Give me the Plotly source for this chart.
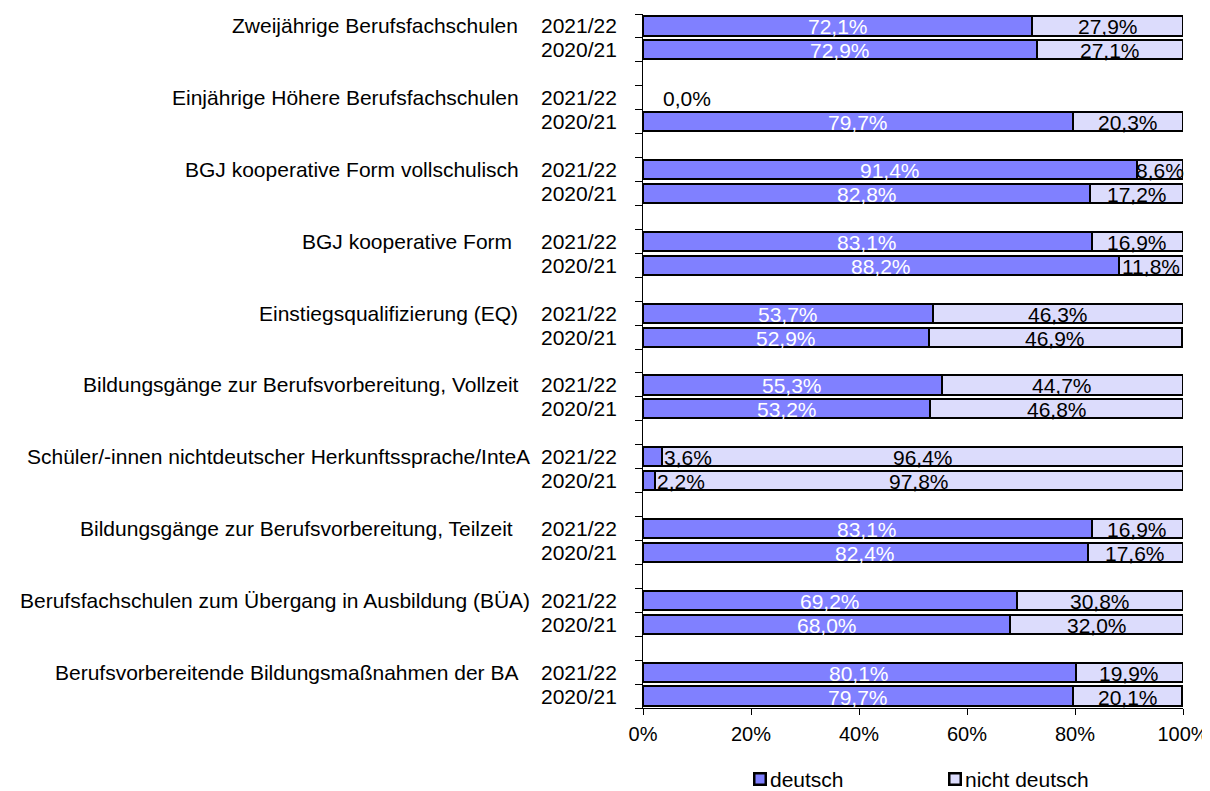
import plotly.graph_objects as go

categories = [
    "Zweijährige Berufsfachschulen  ",
    "Einjährige Höhere Berufsfachschulen  ",
    "BGJ kooperative Form vollschulisch  ",
    "BGJ kooperative Form   ",
    "Einstiegsqualifizierung (EQ)  ",
    "Bildungsgänge zur Berufsvorbereitung, Vollzeit  ",
    "Schüler/-innen nichtdeutscher Herkunftssprache/InteA",
    "Bildungsgänge zur Berufsvorbereitung, Teilzeit   ",
    "Berufsfachschulen zum Übergang in Ausbildung (BÜA)",
    "Berufsvorbereitende Bildungsmaßnahmen der BA  ",
]
years = ["2021/22", "2020/21"]

deutsch_2122 = [72.1, 0.0, 91.4, 83.1, 53.7, 55.3, 3.6, 83.1, 69.2, 80.1]
nicht_2122 = [27.9, None, 8.6, 16.9, 46.3, 44.7, 96.4, 16.9, 30.8, 19.9]
deutsch_2021 = [72.9, 79.7, 82.8, 88.2, 52.9, 53.2, 2.2, 82.4, 68.0, 79.7]
nicht_2021 = [27.1, 20.3, 17.2, 11.8, 46.9, 46.8, 97.8, 17.6, 32.0, 20.1]

x_ticks = [0, 20, 40, 60, 80, 100]
x_tick_labels = ["0%", "20%", "40%", "60%", "80%", "100%"]

series_names = ["deutsch", "nicht deutsch"]
colors = ["#8080ff", "#dcdcfc"]
FONT = "Liberation Sans, Arial, sans-serif"
FS = 21

# slot positions: each category has two rows plus a gap row
ys, d_vals, n_vals, yr_labels = [], [], [], []
for i in range(len(categories)):
    for j, (dv, nv) in enumerate([(deutsch_2122[i], nicht_2122[i]), (deutsch_2021[i], nicht_2021[i])]):
        ys.append(3 * i + j + 0.5)
        d_vals.append(dv)
        n_vals.append(nv)
        yr_labels.append(years[j])
n_slots = 3 * len(categories) - 1

fig = go.Figure()
for name, vals, col in [(series_names[0], d_vals, colors[0]), (series_names[1], n_vals, colors[1])]:
    fig.add_trace(go.Bar(
        x=[v if v else None for v in vals], y=ys, orientation="h", name=name, width=0.8,
        marker=dict(color=col, line=dict(color="black", width=2.5)),
        hoverinfo="skip", showlegend=False,
    ))

def fmt(v):
    return f"{v:.1f}".replace(".", ",") + "%"

ann = []
for y, dv, nv in zip(ys, d_vals, n_vals):
    if dv is not None:
        if dv == 0:
            ann.append(dict(x=0, y=y, text=fmt(dv), xanchor="left", xshift=18, yshift=-1,
                            font=dict(color="black", size=FS, family=FONT), showarrow=False))
        elif dv < 10:
            ann.append(dict(x=dv, y=y, text=fmt(dv), xanchor="left", xshift=0, yshift=-1,
                            font=dict(color="black", size=FS, family=FONT), showarrow=False))
        else:
            ann.append(dict(x=dv / 2, y=y, text=fmt(dv), xanchor="center", yshift=-1,
                            font=dict(color="white", size=FS, family=FONT), showarrow=False))
    if nv is not None:
        ann.append(dict(x=dv + nv / 2, y=y, text=fmt(nv), xanchor="center", yshift=-1,
                        font=dict(color="black", size=FS, family=FONT), showarrow=False))

for y, yl in zip(ys, yr_labels):
    ann.append(dict(xref="paper", x=0, y=y, text=yl, xanchor="right", xshift=-24,
                    font=dict(color="black", size=FS, family=FONT), showarrow=False))

for i, c in enumerate(categories):
    txt = c.rstrip(" ") + "\u00a0" * (len(c) - len(c.rstrip(" ")))
    ann.append(dict(xref="paper", x=0, y=3 * i + 0.5, text=txt, xanchor="right", xshift=-111,
                    font=dict(color="black", size=FS, family=FONT), showarrow=False))

# manual legend (square swatch + label)
legend_offsets = [117, 312]
for name, col, off in zip(series_names, colors, legend_offsets):
    ann.append(dict(xref="paper", yref="paper", x=0, y=0, xanchor="center", yanchor="middle",
                    xshift=off, yshift=-71, text="", width=9, height=9, bgcolor=col,
                    bordercolor="black", borderwidth=2.5, borderpad=0, showarrow=False))
    ann.append(dict(xref="paper", yref="paper", x=0, y=0, xanchor="left", yanchor="middle",
                    xshift=off + 8, yshift=-71, text=name, showarrow=False,
                    font=dict(color="black", size=FS, family=FONT)))

fig.update_layout(
    width=1210, height=791,
    margin=dict(l=635, r=35, t=6, b=91, pad=0),
    barmode="stack", bargap=0,
    plot_bgcolor="white", paper_bgcolor="white",
    font=dict(family=FONT, size=FS, color="black"),
    annotations=ann,
    showlegend=False,
    xaxis=dict(range=[0, 100], tickvals=x_ticks, ticktext=x_tick_labels,
               ticks="outside", ticklen=6, tickcolor="black", showline=True,
               linecolor="black", linewidth=1, showgrid=False, zeroline=False,
               ticklabelstandoff=2, tickfont=dict(size=20, family=FONT)),
    yaxis=dict(range=[n_slots, 0], tickvals=list(range(n_slots + 1)), ticks="outside",
               ticklen=7, tickcolor="black", showline=True, linecolor="black", linewidth=1,
               showgrid=False, zeroline=False, showticklabels=False),
)

fig.write_html("out.html")
